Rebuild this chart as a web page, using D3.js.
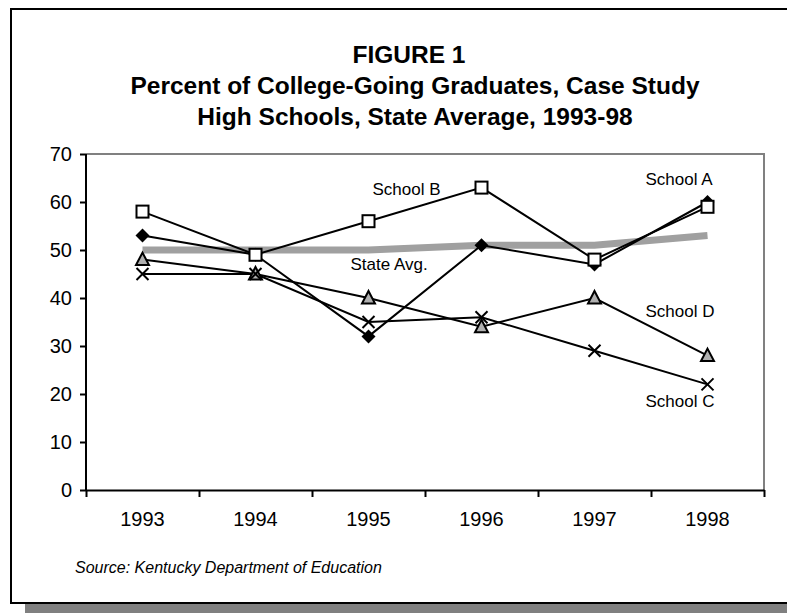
<!DOCTYPE html>
<html>
<head>
<meta charset="utf-8">
<script src="https://cdn.jsdelivr.net/npm/d3@7"></script>
<style>
  body { margin: 0; background: #fff; }
  svg { display: block; font-family: "Liberation Sans", Arial, sans-serif; }
  .y.axis text, .x.axis text { font-size: 20px; fill: #000; }
  .axis path, .axis line { stroke: #000; stroke-width: 2; }
</style>
</head>
<body>
<div id="chart"></div>
<script>
var years = ["1993", "1994", "1995", "1996", "1997", "1998"];
var schoolA = [53, 49, 32, 51, 47, 60];
var schoolB = [58, 49, 56, 63, 48, 59];
var schoolC = [45, 45, 35, 36, 29, 22];
var schoolD = [48, 45, 40, 34, 40, 28];
var stateAvg = [50, 50, 50, 51, 51, 53];
var yTicks = [0, 10, 20, 30, 40, 50, 60, 70];
var titleLines = ["FIGURE 1", "Percent of College-Going Graduates, Case Study", "High Schools, State Average, 1993-98"];
var sourceNote = "Source: Kentucky Department of Education";

var width = 787, height = 613;
var margin = {top: 154, right: 23, bottom: 123, left: 86};
var chartWidth = width - margin.left - margin.right;
var chartHeight = height - margin.top - margin.bottom;

var svg = d3.select('#chart').append('svg')
    .attr('width', width)
    .attr('height', height);

// shadowed frame
svg.append('rect').attr('x', 25).attr('y', 12).attr('width', 800).attr('height', 601).attr('fill', '#808080');
svg.append('rect').attr('x', 11).attr('y', 9).attr('width', 800).attr('height', 594)
    .attr('fill', '#fff').attr('stroke', '#000').attr('stroke-width', 2);

// title
svg.append('g').selectAll('text')
    .data(titleLines)
    .enter().append('text')
    .attr('x', function(d, i) { return i === 0 ? 409 : 415; })
    .attr('y', function(d, i) { return 63 + i * 31; })
    .attr('text-anchor', 'middle')
    .attr('font-weight', 'bold')
    .attr('font-size', '24.5px')
    .text(function(d) { return d; });

svg.append('text')
    .attr('x', 75).attr('y', 573)
    .attr('font-size', '16px')
    .attr('font-style', 'italic')
    .text(sourceNote);

var g = svg.append('g')
    .attr('transform', `translate(${margin.left}, ${margin.top})`);

var xScale = d3.scaleBand().domain(years).range([0, chartWidth]);
var xEdges = d3.scaleLinear().domain([0, years.length]).range([0, chartWidth]);
var yScale = d3.scaleLinear().domain([0, 70]).range([chartHeight, 0]);
function cx(d, i) { return xScale(years[i]) + xScale.bandwidth() / 2; }

// plot area border (top, right)
g.append('path')
    .attr('d', `M0,0H${chartWidth}V${chartHeight}`)
    .attr('fill', 'none').attr('stroke', '#808080').attr('stroke-width', 2);

g.append('g')
    .attr('class', 'y axis')
    .call(d3.axisLeft(yScale).tickValues(yTicks).tickSize(6).tickPadding(8).tickSizeOuter(0))
    .call(function(s) { s.select('.domain').remove(); });

g.append('line').attr('x1', 0).attr('x2', 0).attr('y1', 0).attr('y2', chartHeight)
    .attr('stroke', '#000').attr('stroke-width', 2);

g.append('g')
    .attr('class', 'x axis')
    .attr('transform', `translate(0,${chartHeight})`)
    .call(d3.axisBottom(xEdges).ticks(years.length).tickSize(7).tickSizeOuter(0).tickFormat(''));

g.append('g')
    .attr('class', 'x axis')
    .attr('transform', `translate(0,${chartHeight})`)
    .call(d3.axisBottom(xScale).tickSize(0).tickPadding(22))
    .call(function(s) { s.select('.domain').remove(); });

var line = d3.line().x(cx).y(function(d) { return yScale(d); });

// state average
g.append('path')
    .datum(stateAvg)
    .attr('d', line)
    .attr('fill', 'none')
    .attr('stroke', '#a0a0a0')
    .attr('stroke-width', 7);

var series = [
  {values: schoolD, marker: 'triangle'},
  {values: schoolC, marker: 'cross'},
  {values: schoolA, marker: 'diamond'},
  {values: schoolB, marker: 'square'}
];

series.forEach(function(s) {
  g.append('path')
      .datum(s.values)
      .attr('d', line)
      .attr('fill', 'none')
      .attr('stroke', '#000')
      .attr('stroke-width', 2);
});

series.forEach(function(s) {
  var pts = g.append('g').selectAll('g')
      .data(s.values)
      .enter().append('g')
      .attr('transform', function(d, i) { return `translate(${cx(d, i)},${yScale(d)})`; });
  if (s.marker === 'square') {
    pts.append('rect').attr('x', -6).attr('y', -6).attr('width', 12).attr('height', 12)
        .attr('fill', '#fff').attr('stroke', '#000').attr('stroke-width', 2);
  } else if (s.marker === 'diamond') {
    pts.append('path').attr('d', 'M0,-7L7,0L0,7L-7,0Z').attr('fill', '#000');
  } else if (s.marker === 'triangle') {
    pts.append('path').attr('d', 'M0,-7L6.5,5.5L-6.5,5.5Z')
        .attr('fill', '#b0b0b0').attr('stroke', '#000').attr('stroke-width', 2);
  } else {
    pts.append('path').attr('d', 'M-6,-6L6,6M6,-6L-6,6')
        .attr('stroke', '#000').attr('stroke-width', 2);
  }
});

// series labels
var labels = [
  {text: 'School A', x: cx(0, 5) - 62, y: yScale(63.5)},
  {text: 'School B', x: cx(0, 2) + 4, y: yScale(61.5)},
  {text: 'State Avg.', x: cx(0, 2) - 18, y: yScale(45.8)},
  {text: 'School D', x: cx(0, 5) - 62, y: yScale(36)},
  {text: 'School C', x: cx(0, 5) - 62, y: yScale(17.3)}
];
g.append('g').selectAll('text')
    .data(labels)
    .enter().append('text')
    .attr('x', function(d) { return d.x; })
    .attr('y', function(d) { return d.y; })
    .attr('font-size', '17px')
    .text(function(d) { return d.text; });
</script>
</body>
</html>
